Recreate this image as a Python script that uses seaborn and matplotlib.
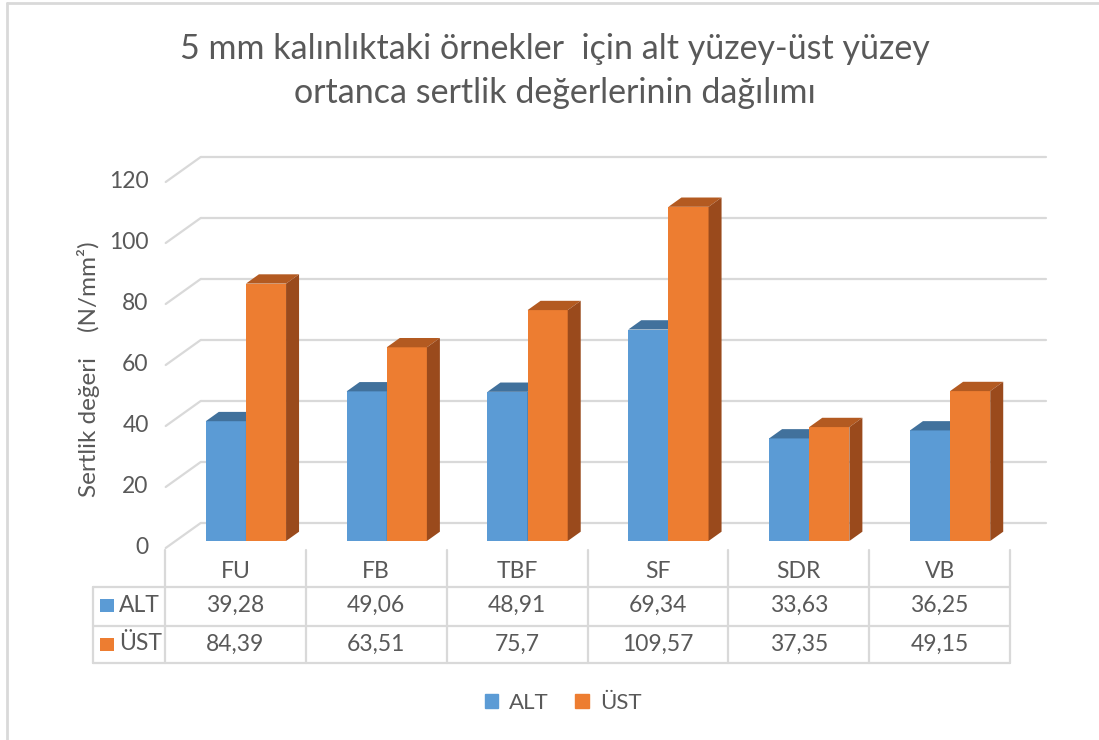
import numpy as np
import pandas as pd
import matplotlib
matplotlib.use("Agg")
import matplotlib.pyplot as plt
from matplotlib.patches import Polygon, Patch
from matplotlib.lines import Line2D
import seaborn as sns

# chart data
categories = ["FU", "FB", "TBF", "SF", "SDR", "VB"]
series_names = ["ALT", "ÜST"]
alt_values = [39.28, 49.06, 48.91, 69.34, 33.63, 36.25]
ust_values = [84.39, 63.51, 75.7, 109.57, 37.35, 49.15]
y_ticks = [0, 20, 40, 60, 80, 100, 120]

title = "5 mm kalınlıktaki örnekler  için alt yüzey-üst yüzey\nortanca sertlik değerlerinin dağılımı"
y_label = "Sertlik değeri    (N/mm²)"

BLUE, ORANGE = "#5B9BD5", "#ED7D31"
TOP = {"ALT": "#41719C", "ÜST": "#B35A21"}
SIDE = {"ALT": "#3A6890", "ÜST": "#9A4A1C"}
GRID = "#D9D9D9"
TEXT = "#595959"
FS = 16.5  # tick / table text size

sns.set_theme(style="white")
plt.rcParams["font.family"] = ["Lato", "DejaVu Sans"]

W, H = 1099, 740
fig = plt.figure(figsize=(W / 100, H / 100), dpi=100)


def fx(px):
    return px / W


def fy(py):
    return 1 - py / H


# axes = front plane of the bars
ax_l, ax_r, ax_b, ax_t = 175.5, 1020.5, 541, 175
ax = fig.add_axes([fx(ax_l), fy(ax_b), (ax_r - ax_l) / W, (ax_b - ax_t) / H])

df = pd.DataFrame({
    "cat": categories * 2,
    "val": alt_values + ust_values,
    "series": [series_names[0]] * len(categories) + [series_names[1]] * len(categories),
})
sns.barplot(data=df, x="cat", y="val", hue="series", palette=[BLUE, ORANGE],
            saturation=1, width=0.57, legend=False, ax=ax, linewidth=0, errorbar=None)
ax.set_xlim(-0.5, 5.5)
ax.set_ylim(0, 120)
ax.axis("off")

# pixel -> data scale
sx = (ax_r - ax_l) / 6
sy = (ax_b - ax_t) / 120
# 3d offsets (pixels, y up)
front_dx, front_dy = -9.8 / sx, -7 / sy
back_dx, back_dy = 25.2 / sx, 18 / sy
depth_dx, depth_dy = 13 / sx, 9.3 / sy

# walls / gridlines
for v in y_ticks:
    ax.plot([-0.5 + back_dx, 5.5 + back_dx], [v + back_dy] * 2, color=GRID,
            lw=1.6, clip_on=False, zorder=0)
    ax.plot([-0.5 + front_dx, -0.5 + back_dx], [v + front_dy, v + back_dy],
            color=GRID, lw=1.6, clip_on=False, zorder=0)
    ax.text(-0.5 + front_dx - 17 / sx, v + front_dy, str(v), ha="right",
            va="center", fontsize=FS, color=TEXT)

# 3d faces for each bar
n = len(categories)
for k, p in enumerate(ax.patches[:2 * n]):
    name = series_names[k // n]
    z = 2 + k // n
    p.set_zorder(z)
    x0, w, h = p.get_x(), p.get_width(), p.get_height()
    x1 = x0 + w
    top = Polygon([(x0, h), (x1, h), (x1 + depth_dx, h + depth_dy), (x0 + depth_dx, h + depth_dy)],
                  closed=True, color=TOP[name], lw=0, clip_on=False, zorder=z)
    side = Polygon([(x1, 0), (x1 + depth_dx, depth_dy), (x1 + depth_dx, h + depth_dy), (x1, h)],
                   closed=True, color=SIDE[name], lw=0, clip_on=False, zorder=z)
    ax.add_patch(top)
    ax.add_patch(side)

# title and axis label
fig.text(fx(555), fy(71), title, ha="center", va="center", fontsize=24.5,
         color=TEXT, linespacing=1.45)
fig.text(fx(88), fy(369), y_label, ha="center", va="center", rotation=90,
         fontsize=17.5, color=TEXT)

# data table under the chart
col_w = sx
tbl_left, tbl_x0, tbl_x1 = 93, 165, 165 + col_w * n
row_top, row1, row2, row3 = 550, 587, 626, 663


def hline(y, x0, x1):
    fig.add_artist(Line2D([fx(x0), fx(x1)], [fy(y), fy(y)], color=GRID, lw=1.6))


def vline(x, y0, y1):
    fig.add_artist(Line2D([fx(x), fx(x)], [fy(y0), fy(y1)], color=GRID, lw=1.6))


for y in (row1, row2, row3):
    hline(y, tbl_left, tbl_x1)
vline(tbl_left, row1, row3)
for i in range(n + 1):
    vline(tbl_x0 + i * col_w, row_top, row3)


def fmt(v):
    return str(v).replace(".", ",")


for i, cat in enumerate(categories):
    cx = tbl_x0 + (i + 0.5) * col_w
    fig.text(fx(cx), fy(572), cat, ha="center", va="center", fontsize=FS, color=TEXT)
    fig.text(fx(cx), fy(605), fmt(alt_values[i]), ha="center", va="center", fontsize=FS, color=TEXT)
    fig.text(fx(cx), fy(644), fmt(ust_values[i]), ha="center", va="center", fontsize=FS, color=TEXT)

for (y, name, col) in ((605, series_names[0], BLUE), (644, series_names[1], ORANGE)):
    fig.add_artist(plt.Rectangle((fx(100), fy(y + 7)), 14 / W, 13 / H, color=col, lw=0))
    fig.text(fx(119), fy(y), name, ha="left", va="center", fontsize=FS, color=TEXT)

# legend
fig.legend(handles=[Patch(color=BLUE, label=series_names[0]), Patch(color=ORANGE, label=series_names[1])],
           loc="center", bbox_to_anchor=(fx(563), fy(703)), ncol=2, frameon=False,
           handlelength=0.6, handleheight=0.6, handletextpad=0.5, columnspacing=1.2,
           fontsize=16, labelcolor=TEXT)

# chart frame
fig.add_artist(Line2D([fx(7), fx(7)], [fy(3), fy(H)], color=GRID, lw=2))
fig.add_artist(Line2D([fx(7), fx(W)], [fy(3), fy(3)], color=GRID, lw=2))

fig.savefig("out.png", dpi=100)
